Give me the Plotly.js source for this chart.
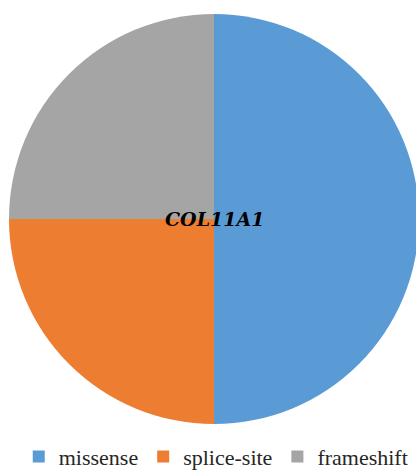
<!DOCTYPE html>
<html><head><meta charset="utf-8">
<script src="https://cdn.plot.ly/plotly-3.0.1.min.js"></script>
<style>html,body{margin:0;padding:0;background:#fff;overflow:hidden}#chart{width:424px;height:473px}</style>
</head><body><div id="chart"></div>
<script>
const labels = ["missense", "splice-site", "frameshift"];
const values = [2, 1, 1];
const colors = ["#5B9BD5", "#ED7D31", "#A5A5A5"];
const centerLabel = "COL11A1";

Plotly.newPlot("chart", [{
  type: "pie",
  labels: labels,
  values: values,
  sort: false,
  direction: "clockwise",
  rotation: 0,
  textinfo: "none",
  hoverinfo: "label+percent",
  marker: {colors: colors, line: {width: 0}},
  domain: {x: [0.0212, 0.9882], y: [0.1036, 0.9704]}
}], {
  width: 424, height: 473,
  margin: {l: 0, r: 0, t: 0, b: 0, autoexpand: false},
  paper_bgcolor: "#fff",
  showlegend: true,
  legend: {
    orientation: "h", x: 0.51, xanchor: "center", y: -0.01, yanchor: "bottom",
    font: {family: "serif", size: 22, color: "#262626"},
    itemwidth: 30, traceorder: "normal"
  },
  annotations: [{
    text: "<b><i>" + centerLabel + "</i></b>",
    x: 0.505, y: 0.537, xref: "paper", yref: "paper", showarrow: false,
    font: {family: "DejaVu Serif", size: 19, color: "#000"}
  }]
}, {displayModeBar: false, staticPlot: true});
</script></body></html>
